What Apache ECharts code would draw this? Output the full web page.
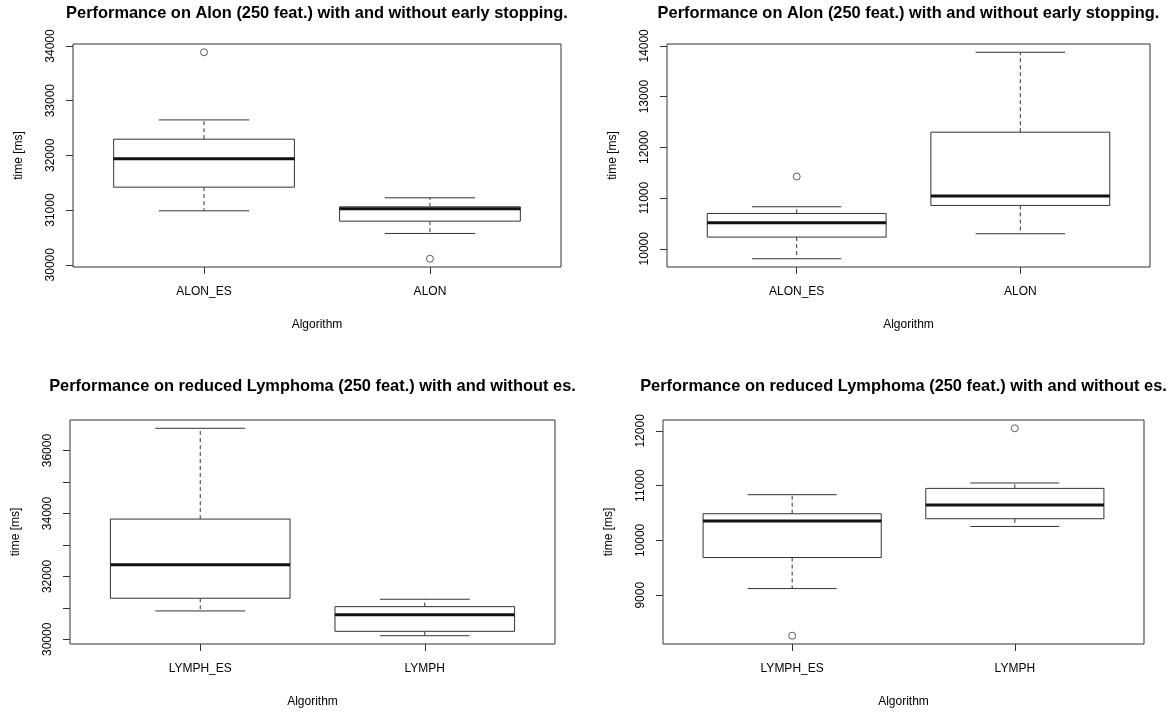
<!DOCTYPE html>
<html>
<head>
<meta charset="utf-8">
<script src="https://cdn.jsdelivr.net/npm/echarts@6/dist/echarts.min.js"></script>
<style>
html,body{margin:0;padding:0;background:#fff;}
#c{width:1175px;height:713px;}
</style>
</head>
<body>
<div id="c"></div>
<script>
// ---- Data ----
const titles = [
  'Performance on Alon (250 feat.) with and without early stopping.',
  'Performance on Alon (250 feat.) with and without early stopping.',
  'Performance on reduced Lymphoma (250 feat.) with and without es.',
  'Performance on reduced Lymphoma (250 feat.) with and without es.'
];
const categoriesAlon = ['ALON_ES', 'ALON'];
const categoriesLymph = ['LYMPH_ES', 'LYMPH'];
const xLabel = 'Algorithm';
const yLabel = 'time [ms]';

// [lower whisker, Q1, median, Q3, upper whisker]
const statsP1 = [[30986, 31419, 31936, 32296, 32648], [30572, 30797, 31023, 31059, 31224]];
const outliersP1 = [[1, 33885], [2, 30110]];
const statsP2 = [[9803, 10230, 10512, 10696, 10828], [10296, 10854, 11038, 12299, 13875]];
const outliersP2 = [[1, 11425]];
const statsP3 = [[30902, 31306, 32367, 33823, 36709], [30115, 30255, 30784, 31039, 31274]];
const outliersP3 = [];
const statsP4 = [[9121, 9688, 10353, 10487, 10835], [10255, 10396, 10646, 10950, 11049]];
const outliersP4 = [[1, 8261], [2, 12047]];

const yTicksP1 = [30000, 31000, 32000, 33000, 34000];
const yLabelsP1 = [30000, 31000, 32000, 33000, 34000];
const yTicksP2 = [10000, 11000, 12000, 13000, 14000];
const yLabelsP2 = [10000, 11000, 12000, 13000, 14000];
const yTicksP3 = [30000, 31000, 32000, 33000, 34000, 35000, 36000];
const yLabelsP3 = [30000, 32000, 34000, 36000];
const yTicksP4 = [9000, 10000, 11000, 12000];
const yLabelsP4 = [9000, 10000, 11000, 12000];

// ---- Layout ----
const panels = [
  {stats: statsP1, out: outliersP1, cats: categoriesAlon, ticks: yTicksP1, labels: yLabelsP1, grid: {left: 73, top: 44, width: 488, height: 223}, title: titles[0], titleY: 13},
  {stats: statsP2, out: outliersP2, cats: categoriesAlon, ticks: yTicksP2, labels: yLabelsP2, grid: {left: 667, top: 44, width: 483, height: 223}, title: titles[1], titleY: 13},
  {stats: statsP3, out: outliersP3, cats: categoriesLymph, ticks: yTicksP3, labels: yLabelsP3, grid: {left: 70, top: 420, width: 485, height: 224}, title: titles[2], titleY: 386},
  {stats: statsP4, out: outliersP4, cats: categoriesLymph, ticks: yTicksP4, labels: yLabelsP4, grid: {left: 663, top: 420, width: 481, height: 224}, title: titles[3], titleY: 386}
];

const FONT = '"Liberation Sans", Arial, Helvetica, sans-serif';
const INK = '#000';
const LINE = '#333';

function yRange(stats, out) {
  let vals = [];
  stats.forEach(s => vals.push(...s));
  out.forEach(o => vals.push(o[1]));
  const mn = Math.min(...vals), mx = Math.max(...vals);
  const pad = (mx - mn) * 0.04;
  return [mn - pad, mx + pad];
}

const grids = [], xAxes = [], yAxes = [], series = [], graphics = [];
panels.forEach((p, i) => {
  grids.push(Object.assign({show: true, borderColor: LINE, borderWidth: 1, backgroundColor: 'transparent'}, p.grid));
  const cats = p.cats;
  xAxes.push({
    gridIndex: i, type: 'value', min: 0.42, max: 2.58,
    name: xLabel, nameLocation: 'middle', nameGap: 52,
    nameTextStyle: {fontFamily: FONT, fontSize: 12, color: INK},
    axisLine: {show: false},
    splitLine: {show: false},
    axisTick: {show: true, length: 7, lineStyle: {color: LINE}, customValues: [1, 2]},
    axisLabel: {fontFamily: FONT, fontSize: 12, color: INK, margin: 19, customValues: [1, 2],
      formatter: v => cats[Math.round(v) - 1] || ''}
  });
  const r = yRange(p.stats, p.out);
  yAxes.push({
    gridIndex: i, type: 'value', min: r[0], max: r[1],
    name: yLabel, nameLocation: 'middle', nameGap: 48, nameRotate: 90,
    nameTextStyle: {fontFamily: FONT, fontSize: 12, color: INK},
    axisLine: {show: false},
    splitLine: {show: false},
    axisTick: {show: true, length: 7, lineStyle: {color: LINE}, customValues: p.ticks},
    axisLabel: {fontFamily: FONT, fontSize: 12, color: INK, rotate: 90, margin: 16, customValues: p.labels,
      formatter: v => String(Math.round(v))}
  });
  const boxData = p.stats.map((s, k) => [k + 1].concat(s));
  series.push({
    type: 'custom', xAxisIndex: i, yAxisIndex: i,
    data: boxData,
    encode: {x: 0, y: [1, 2, 3, 4, 5]},
    renderItem: function (params, api) {
      const x = api.value(0);
      const lo = api.value(1), q1 = api.value(2), md = api.value(3), q3 = api.value(4), hi = api.value(5);
      const L = api.coord([x - 0.4, q1]), R = api.coord([x + 0.4, q3]);
      const cx = api.coord([x, md])[0];
      const capL = api.coord([x - 0.2, lo])[0], capR = api.coord([x + 0.2, lo])[0];
      const yLo = api.coord([x, lo])[1], yHi = api.coord([x, hi])[1];
      const yQ1 = L[1], yQ3 = R[1], yMd = api.coord([x, md])[1];
      const solid = {stroke: LINE, lineWidth: 1, fill: null};
      const dashed = {stroke: LINE, lineWidth: 1, lineDash: [4, 3]};
      return {
        type: 'group',
        children: [
          {type: 'line', shape: {x1: cx, y1: yQ3, x2: cx, y2: yHi}, style: dashed},
          {type: 'line', shape: {x1: cx, y1: yQ1, x2: cx, y2: yLo}, style: dashed},
          {type: 'line', shape: {x1: capL, y1: yHi, x2: capR, y2: yHi}, style: solid},
          {type: 'line', shape: {x1: capL, y1: yLo, x2: capR, y2: yLo}, style: solid},
          {type: 'rect', shape: {x: L[0], y: yQ3, width: R[0] - L[0], height: yQ1 - yQ3}, style: {stroke: LINE, lineWidth: 1, fill: '#fff'}},
          {type: 'line', shape: {x1: L[0], y1: yMd, x2: R[0], y2: yMd}, style: {stroke: '#111', lineWidth: 3}}
        ]
      };
    },
    z: 2
  });
  series.push({
    type: 'scatter', xAxisIndex: i, yAxisIndex: i,
    data: p.out, symbol: 'circle', symbolSize: 7,
    itemStyle: {color: 'transparent', borderColor: LINE, borderWidth: 1},
    z: 3
  });
  graphics.push({
    type: 'text', x: p.grid.left + p.grid.width / 2, y: p.titleY,
    style: {text: p.title, fontFamily: FONT, fontSize: 16.4, fontWeight: 'bold', fill: INK, textAlign: 'center', textVerticalAlign: 'middle'}
  });
});

const chart = echarts.init(document.getElementById('c'), null, {renderer: 'canvas'});
chart.setOption({
  animation: false,
  backgroundColor: '#fff',
  grid: grids,
  xAxis: xAxes,
  yAxis: yAxes,
  series: series,
  graphic: graphics
});
</script>
</body>
</html>
